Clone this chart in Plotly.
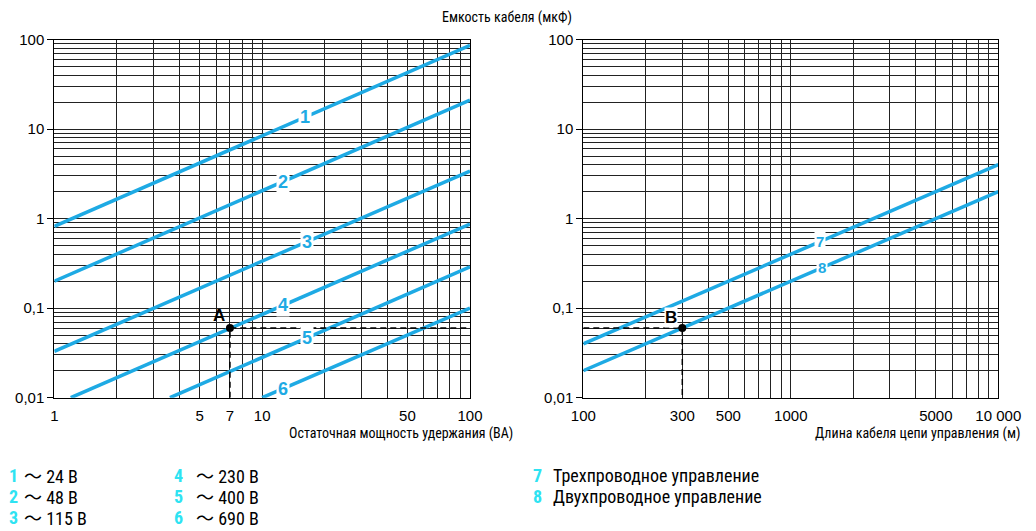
import math
import plotly.graph_objects as go

W, H = 1036, 531

# ---------------- data ----------------
ac_ids = ["1", "2", "3", "4", "5", "6"]
ac_volts = ["24 В", "48 В", "115 В", "230 В", "400 В", "690 В"]
ac_x0 = [1, 1, 1, 1.2, 3.6, 10]
ac_y0 = [0.82, 0.2, 0.033, 0.01, 0.01, 0.01]
ac_x1 = [100, 100, 100, 100, 100, 100]
ac_y1 = [86, 21, 3.4, 0.87, 0.29, 0.1]
ac_label_x = [16, 12.6, 16.4, 12.6, 16.4, 12.6]

ctrl_ids = ["7", "8"]
ctrl_names = ["Трехпроводное управление", "Двухпроводное управление"]
ctrl_x0 = [100, 100]
ctrl_y0 = [0.04, 0.02]
ctrl_x1 = [10000, 10000]
ctrl_y1 = [4.0, 2.0]
ctrl_label_x = [1380, 1410]

point_a = (7, 0.06)
point_b = (300, 0.06)

y_tickvals = [0.01, 0.1, 1, 10, 100]
y_ticktext = ["0,01", "0,1", "1", "10", "100"]
x1_tickvals = [1, 5, 7, 10, 50, 100]
x1_ticktext = ["1", "5", "7", "10", "50", "100"]
x2_tickvals = [100, 300, 500, 1000, 5000, 10000]
x2_ticktext = ["100", "300", "500", "1000", "5000", "10 000"]

title_top = "Емкость кабеля (мкФ)"
title_x1 = "Остаточная мощность удержания (ВА)"
title_x2 = "Длина кабеля цепи управления (м)"

# --------------- style ---------------
LINE_C = "#1eaae4"
LEG_C = "#2ee3f2"
NARROW = "Roboto Condensed, DejaVu Sans Condensed, sans-serif"
ARIAL = "Liberation Sans, Arial, sans-serif"
TILDE_FONT = "Noto Sans CJK SC"


def px(x):
    return x / W


def py(y):
    return 1 - y / H


def decade_grid(lo_exp, hi_exp):
    vals = []
    for e in range(lo_exp, hi_exp):
        for m in range(1, 10):
            vals.append(m * 10 ** e)
    vals.append(10 ** hi_exp)
    return vals


def interp_log(x, xa, ya, xb, yb):
    t = (math.log10(x) - math.log10(xa)) / (math.log10(xb) - math.log10(xa))
    return 10 ** (math.log10(ya) + t * (math.log10(yb) - math.log10(ya)))


dom1 = [px(54.3), px(470)]
dom2 = [px(583.3), px(998.3)]
ydom = [py(397.7), py(39.5)]

fig = go.Figure()

for i in range(len(ac_ids)):
    fig.add_trace(go.Scatter(x=[ac_x0[i], ac_x1[i]], y=[ac_y0[i], ac_y1[i]],
                             mode="lines", line=dict(color=LINE_C, width=3.5),
                             xaxis="x", yaxis="y", showlegend=False, hoverinfo="skip"))
for i in range(len(ctrl_ids)):
    fig.add_trace(go.Scatter(x=[ctrl_x0[i], ctrl_x1[i]], y=[ctrl_y0[i], ctrl_y1[i]],
                             mode="lines", line=dict(color=LINE_C, width=3.5),
                             xaxis="x2", yaxis="y2", showlegend=False, hoverinfo="skip"))

DASH = dict(color="black", width=1.5, dash="6px,4px")
fig.add_trace(go.Scatter(x=[point_a[0], point_a[0], x1_tickvals[-1]],
                         y=[y_tickvals[0], point_a[1], point_a[1]],
                         mode="lines", line=DASH, xaxis="x", yaxis="y",
                         showlegend=False, hoverinfo="skip"))
fig.add_trace(go.Scatter(x=[x2_tickvals[0], point_b[0], point_b[0]],
                         y=[point_b[1], point_b[1], y_tickvals[0]],
                         mode="lines", line=DASH, xaxis="x2", yaxis="y2",
                         showlegend=False, hoverinfo="skip"))
fig.add_shape(type="line", xref="paper", yref="y", x0=dom1[1], x1=dom2[0],
              y0=math.log10(point_a[1]), y1=math.log10(point_b[1]), line=DASH)

fig.add_trace(go.Scatter(x=[point_a[0]], y=[point_a[1]], mode="markers",
                         marker=dict(color="black", size=8), xaxis="x", yaxis="y",
                         showlegend=False, hoverinfo="skip"))
fig.add_trace(go.Scatter(x=[point_b[0]], y=[point_b[1]], mode="markers",
                         marker=dict(color="black", size=8), xaxis="x2", yaxis="y2",
                         showlegend=False, hoverinfo="skip"))

ann = []
for i in range(len(ac_ids)):
    lx = ac_label_x[i]
    ly = interp_log(lx, ac_x0[i], ac_y0[i], ac_x1[i], ac_y1[i])
    ann.append(dict(x=math.log10(lx), y=math.log10(ly), xref="x", yref="y",
                    text="<b>%s</b>" % ac_ids[i], showarrow=False,
                    xanchor="center", yanchor="middle",
                    font=dict(family=ARIAL, size=18, color=LINE_C),
                    bgcolor="white", borderpad=1))
for i in range(len(ctrl_ids)):
    lx = ctrl_label_x[i]
    ly = interp_log(lx, ctrl_x0[i], ctrl_y0[i], ctrl_x1[i], ctrl_y1[i])
    ann.append(dict(x=math.log10(lx), y=math.log10(ly), xref="x2", yref="y2",
                    text="<b>%s</b>" % ctrl_ids[i], showarrow=False,
                    xanchor="center", yanchor="middle",
                    font=dict(family=ARIAL, size=15, color=LINE_C),
                    bgcolor="white", borderpad=1))

ann.append(dict(x=math.log10(point_a[0]), y=math.log10(point_a[1]), xref="x", yref="y",
                text="<b>A</b>", showarrow=False, xshift=-11, yshift=13,
                xanchor="center", yanchor="middle",
                font=dict(family=ARIAL, size=17, color="black")))
ann.append(dict(x=math.log10(point_b[0]), y=math.log10(point_b[1]), xref="x2", yref="y2",
                text="<b>B</b>", showarrow=False, xshift=-11, yshift=11,
                xanchor="center", yanchor="middle",
                font=dict(family=ARIAL, size=17, color="black"), bgcolor="white",
                borderpad=0))

ann.append(dict(x=px(507), y=py(17), xref="paper", yref="paper", text=title_top,
                xanchor="center", yanchor="middle", showarrow=False,
                font=dict(family=NARROW, size=14, color="black")))
ann.append(dict(x=px(515), y=py(433), xref="paper", yref="paper", text=title_x1,
                xanchor="right", yanchor="middle", showarrow=False,
                font=dict(family=NARROW, size=14, color="black")))
ann.append(dict(x=px(1022), y=py(433), xref="paper", yref="paper", text=title_x2,
                xanchor="right", yanchor="middle", showarrow=False,
                font=dict(family=NARROW, size=14, color="black")))

# legend (bottom text)
rows_y = [475, 496, 517]
tilde = '<span style="font-family:%s">〜</span>' % TILDE_FONT
for i in range(len(ac_ids)):
    col = i // 3
    r = i % 3
    xn = [7, 172][col]
    xw = [22, 194][col]
    ann.append(dict(x=px(xn), y=py(rows_y[r]), xref="paper", yref="paper",
                    text="<b>%s</b>" % ac_ids[i], xanchor="left", yanchor="middle",
                    showarrow=False,
                    font=dict(family=NARROW, size=18, color=LEG_C)))
    ann.append(dict(x=px(xw), y=py(rows_y[r]), xref="paper", yref="paper",
                    text=tilde + " " + ac_volts[i], xanchor="left", yanchor="middle",
                    showarrow=False,
                    font=dict(family=NARROW, size=18, color="black")))
for i in range(len(ctrl_ids)):
    ann.append(dict(x=px(531), y=py(rows_y[i]), xref="paper", yref="paper",
                    text="<b>%s</b>" % ctrl_ids[i], xanchor="left", yanchor="middle",
                    showarrow=False,
                    font=dict(family=NARROW, size=18, color=LEG_C)))
    ann.append(dict(x=px(551), y=py(rows_y[i]), xref="paper", yref="paper",
                    text=ctrl_names[i], xanchor="left", yanchor="middle", showarrow=False,
                    font=dict(family=NARROW, size=18, color="black")))

GRID = "#222222"


def xaxis_cfg(dom, rng, tv, tt, minor_vals, anchor):
    return dict(type="log", domain=dom, range=rng, anchor=anchor,
                tickmode="array", tickvals=tv, ticktext=tt, ticks="",
                showgrid=True, gridcolor=GRID, gridwidth=1,
                minor=dict(tickmode="array", tickvals=minor_vals, showgrid=True,
                           gridcolor=GRID, gridwidth=1, ticks=""),
                showline=True, linecolor="black", linewidth=1, mirror=True,
                tickfont=dict(family=ARIAL, size=15, color="black"),
                ticklabelstandoff=4, zeroline=False, fixedrange=True,
                automargin=False)


def yaxis_cfg(anchor):
    return dict(type="log", domain=ydom, range=[-2, 2], anchor=anchor,
                tickmode="array", tickvals=y_tickvals, ticktext=y_ticktext,
                ticks="outside", ticklen=6, tickcolor="black", tickwidth=1,
                showgrid=True, gridcolor=GRID, gridwidth=1,
                minor=dict(tickmode="array", tickvals=decade_grid(-2, 2), showgrid=True,
                           gridcolor=GRID, gridwidth=1, ticks=""),
                showline=True, linecolor="black", linewidth=1, mirror=True,
                tickfont=dict(family=ARIAL, size=15, color="black"),
                zeroline=False, fixedrange=True, automargin=False)


fig.update_layout(
    width=W, height=H,
    margin=dict(l=0, r=0, t=0, b=0),
    paper_bgcolor="white", plot_bgcolor="white",
    showlegend=False,
    xaxis=xaxis_cfg(dom1, [0, 2], x1_tickvals, x1_ticktext, decade_grid(0, 2), "y"),
    xaxis2=xaxis_cfg(dom2, [2, 4], x2_tickvals, x2_ticktext, decade_grid(2, 4), "y2"),
    yaxis=yaxis_cfg("x"),
    yaxis2=yaxis_cfg("x2"),
    annotations=ann,
)

fig.write_html("out.html", config={"displayModeBar": False},
               post_script="document.body.style.margin='0';document.body.style.padding='0';")
